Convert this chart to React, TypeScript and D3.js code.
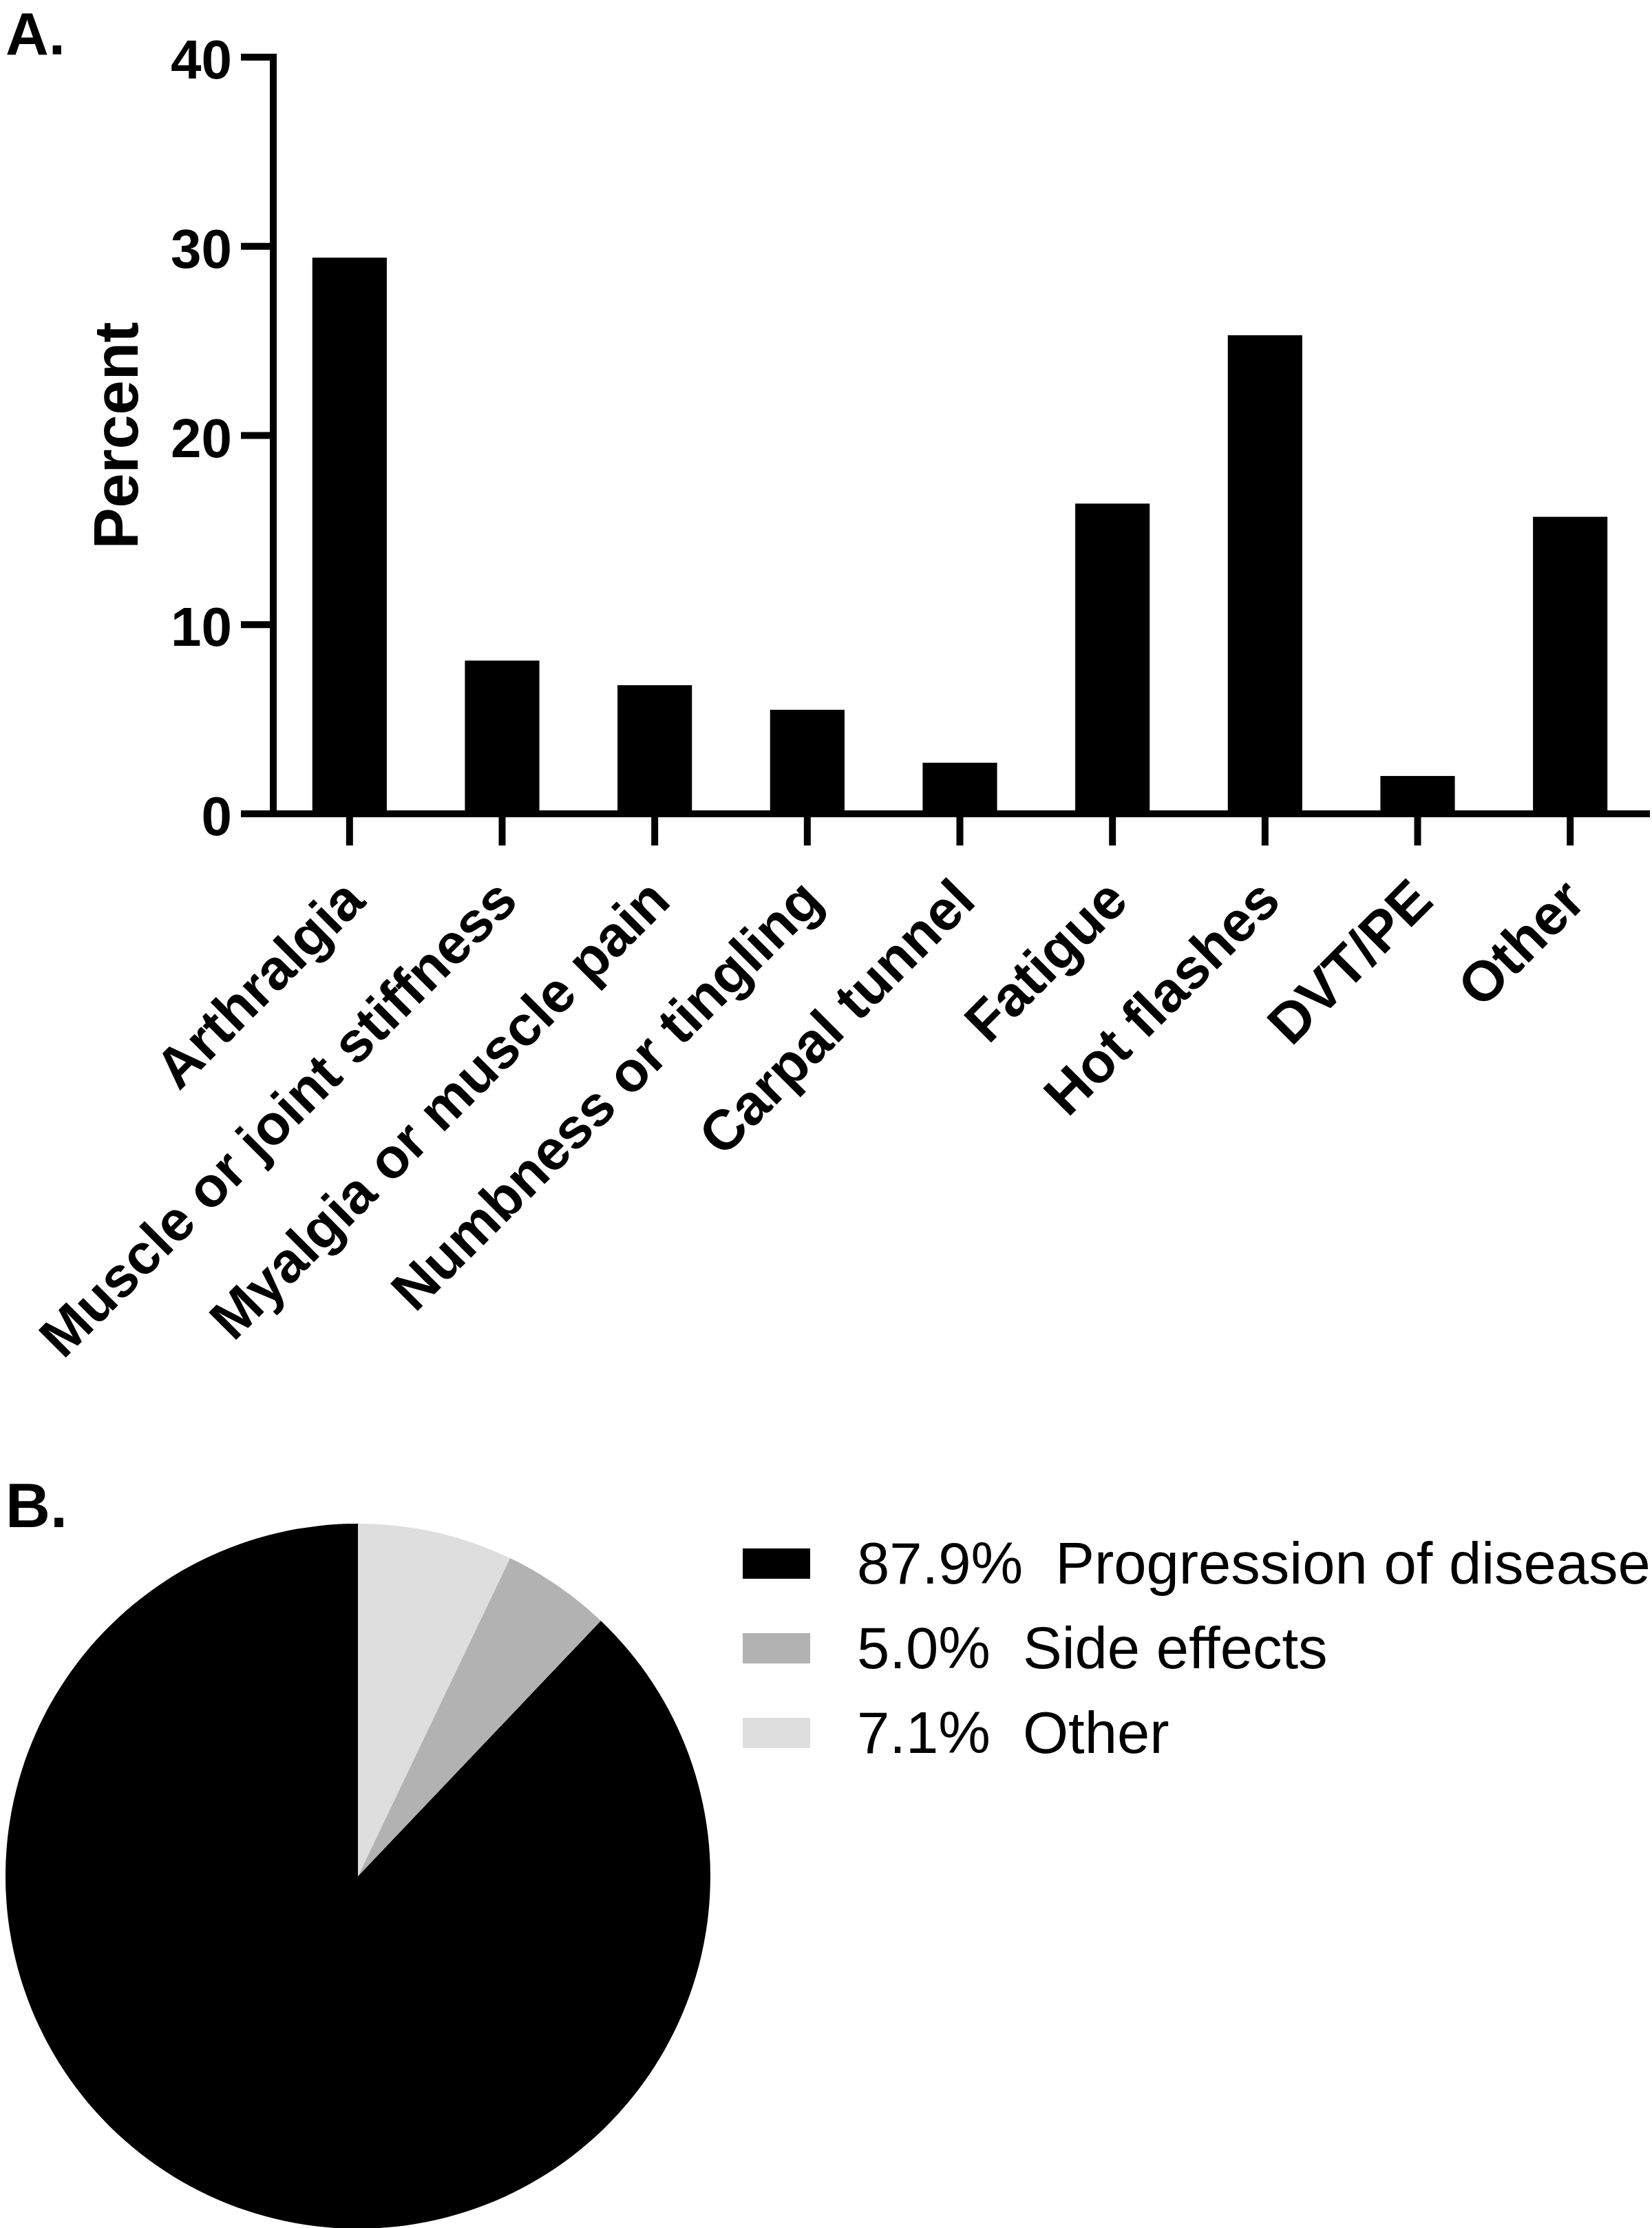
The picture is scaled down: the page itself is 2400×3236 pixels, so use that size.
import React from "react";
import * as d3 from "d3";

const categories = [
  "Arthralgia",
  "Muscle or joint stiffness",
  "Myalgia or muscle pain",
  "Numbness or tingling",
  "Carpal tunnel",
  "Fatigue",
  "Hot flashes",
  "DVT/PE",
  "Other",
];
const percents = [29.4, 8.1, 6.8, 5.5, 2.7, 16.4, 25.3, 2.0, 15.7];
const yTicks = [0, 10, 20, 30, 40];

const pieLabels = ["Progression of disease", "Side effects", "Other"];
const pieValues = [87.9, 5.0, 7.1];
const pieColors = ["#000000", "#b2b2b2", "#dedede"];

const FONT = "'Liberation Sans', Arial, Helvetica, sans-serif";

export default function App() {
  const W = 2400;
  const H = 3236;

  const y = d3.scaleLinear().domain([0, 40]).range([1182, 83]);
  const x = d3
    .scaleBand<string>()
    .domain(categories)
    .range([397, 2392])
    .paddingInner(0.512)
    .paddingOuter(0.256);

  const axisX = 397;
  const stroke = 10;

  const pie = d3
    .pie<number>()
    .sort(null)
    .startAngle(2 * Math.PI)
    .endAngle(0)(pieValues);
  const arc = d3.arc<d3.PieArcDatum<number>>().innerRadius(0).outerRadius(512);
  const pcx = 520;
  const pcy = 2725;

  const legendY = d3.scaleLinear().domain([0, 1]).range([2271, 2394]);

  return (
    <svg
      width={W}
      height={H}
      style={{ position: "absolute", left: 0, top: 0, display: "block", background: "#fff" }}
      fontFamily={FONT}
    >
      <rect x={0} y={0} width={W} height={H} fill="#fff" />
      {/* Panel A */}
      <text x={8} y={79} fontSize={87} fontWeight="bold">
        A.
      </text>

      {/* bars */}
      {categories.map((c, i) => (
        <rect
          key={c}
          x={x(c)!}
          y={y(percents[i])}
          width={x.bandwidth()}
          height={y(0) - y(percents[i])}
          fill="#000"
        />
      ))}

      {/* y axis */}
      <line
        x1={axisX}
        x2={axisX}
        y1={y(40) - stroke / 2}
        y2={y(0) + stroke / 2}
        stroke="#000"
        strokeWidth={stroke}
      />
      {yTicks.map((t) => (
        <g key={t}>
          <line x1={350} x2={axisX} y1={y(t)} y2={y(t)} stroke="#000" strokeWidth={stroke} />
          <text
            x={337}
            y={y(t) + 31}
            fontSize={80}
            fontWeight="bold"
            textAnchor="end"
          >
            {t}
          </text>
        </g>
      ))}
      <text
        transform={`translate(200, ${y(20)}) rotate(-90)`}
        fontSize={90}
        fontWeight="bold"
        textAnchor="middle"
      >
        Percent
      </text>

      {/* x axis */}
      <line x1={350} x2={2397} y1={y(0)} y2={y(0)} stroke="#000" strokeWidth={stroke} />
      {categories.map((c) => {
        const cx = x(c)! + x.bandwidth() / 2;
        return (
          <g key={c}>
            <line x1={cx} x2={cx} y1={y(0)} y2={1228} stroke="#000" strokeWidth={stroke} />
            <text
              transform={`translate(${cx + 26}, 1312) rotate(-45)`}
              fontSize={82}
              fontWeight="bold"
              textAnchor="end"
            >
              {c}
            </text>
          </g>
        );
      })}

      {/* Panel B */}
      <text x={8} y={2218} fontSize={90} fontWeight="bold">
        B.
      </text>
      <g transform={`translate(${pcx}, ${pcy})`}>
        {pie.map((d, i) => (
          <path key={pieLabels[i]} d={arc(d)!} fill={pieColors[i]} />
        ))}
      </g>

      {/* legend */}
      {pieLabels.map((lab, i) => {
        const cy = legendY(i);
        return (
          <g key={lab}>
            <rect x={1079} y={cy - 22} width={98} height={44} fill={pieColors[i]} />
            <text
              x={1245}
              y={cy + 29}
              fontSize={85}
              style={{ whiteSpace: "pre" }}
            >
              {`${pieValues[i].toFixed(1)}%  ${lab}`}
            </text>
          </g>
        );
      })}
    </svg>
  );
}
